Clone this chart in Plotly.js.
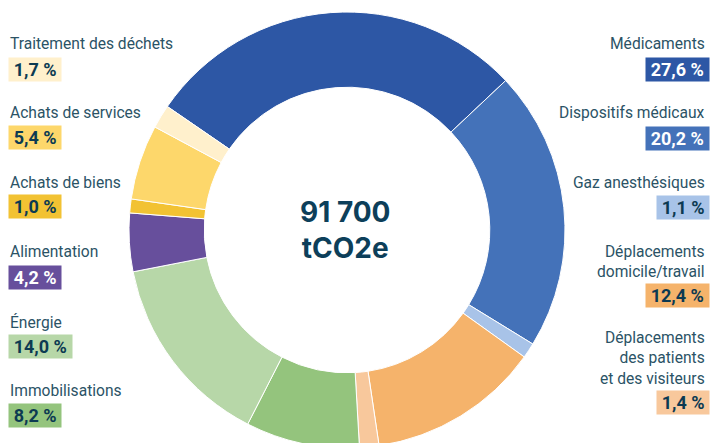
<!DOCTYPE html>
<html>
<head>
<meta charset="utf-8">
<script src="https://cdn.plot.ly/plotly-3.0.1.min.js"></script>
<style>
html,body{margin:0;padding:0;overflow:hidden;background:#fff;width:711px;height:443px;}
#chart{width:711px;height:453px;}
</style>
</head>
<body>
<div id="chart"></div>
<script>
// ---- data ----
const categories = [
  "Médicaments",
  "Dispositifs médicaux",
  "Gaz anesthésiques",
  "Déplacements<br>domicile/travail",
  "Déplacements<br>des patients<br>et des visiteurs",
  "Immobilisations",
  "Énergie",
  "Alimentation",
  "Achats de biens",
  "Achats de services",
  "Traitement des déchets"
];
const values = [27.6, 20.2, 1.1, 12.4, 1.4, 8.2, 14.0, 4.2, 1.0, 5.4, 1.7];
const colors = ["#2d57a5", "#4472b9", "#a8c3e8", "#f5b36b", "#f8c89c", "#94c47d", "#b7d7a8", "#674f9c", "#f2c233", "#fdd76b", "#fff0cc"];
const pctTextColors = ["#ffffff", "#ffffff", "#0c3a52", "#0c3a52", "#0c3a52", "#0c3a52", "#0c3a52", "#ffffff", "#0c3a52", "#0c3a52", "#0c3a52"];
const totalValue = "91 700";
const totalUnit = "tCO2e";

// ---- layout helpers ----
const W = 711, H = 453;
const px = x => x / W;
const py = y => 1 - y / H;

// label placement (pixel centres): [side, labelY, boxY]
const place = [
  ["r", 44, 69.5],
  ["r", 113, 138],
  ["r", 183, 207.5],
  ["r", 262, 295.5],
  ["r", 358.5, 402.5],
  ["l", 391, 415.5],
  ["l", 322, 346.5],
  ["l", 252, 277],
  ["l", 183, 206.5],
  ["l", 113, 137],
  ["l", 44, 69]
];

const labelColor = "#2b5366";
const annotations = [];
categories.forEach((c, i) => {
  const [side, ly, by] = place[i];
  const isR = side === "r";
  annotations.push({
    xref: "paper", yref: "paper",
    x: px(isR ? 707 : 8), y: py(ly),
    xanchor: isR ? "right" : "left", yanchor: "middle",
    align: isR ? "right" : "left",
    text: c, showarrow: false,
    font: {family: "Roboto, 'Liberation Sans', sans-serif", size: 15.6, color: labelColor}
  });
  const pct = values[i].toFixed(1).replace(".", ",") + " %";
  annotations.push({
    xref: "paper", yref: "paper",
    x: px(isR ? 710 : 8), y: py(by),
    xanchor: isR ? "right" : "left", yanchor: "middle",
    text: "\u2009" + pct + "\u2009", showarrow: false,
    bgcolor: colors[i], borderpad: 1,
    font: {family: "Roboto, sans-serif", size: 18, color: pctTextColors[i], weight: 700}
  });
});
annotations.push({
  xref: "paper", yref: "paper",
  x: px(345), y: py(230),
  xanchor: "center", yanchor: "middle",
  text: "<b>" + totalValue + "<br>" + totalUnit + "</b>", showarrow: false,
  font: {family: "Inter, 'Noto Sans', sans-serif", size: 28, color: "#0d3f5a"}
});

const cx = 347, cy = 230, R = 218;
const trace = {
  type: "pie",
  labels: categories,
  values: values,
  marker: {colors: colors, line: {color: "#ffffff", width: 1}},
  hole: 0.655,
  sort: false,
  direction: "clockwise",
  rotation: -55.5,
  textinfo: "none",
  hoverinfo: "none",
  showlegend: false,
  domain: {x: [px(cx - R), px(cx + R)], y: [py(cy + R), py(cy - R)]}
};

Plotly.newPlot("chart", [trace], {
  width: W, height: H,
  margin: {l: 0, r: 0, t: 0, b: 0},
  paper_bgcolor: "#ffffff",
  annotations: annotations,
  showlegend: false
}, {displayModeBar: false, staticPlot: true});
</script>
</body>
</html>
